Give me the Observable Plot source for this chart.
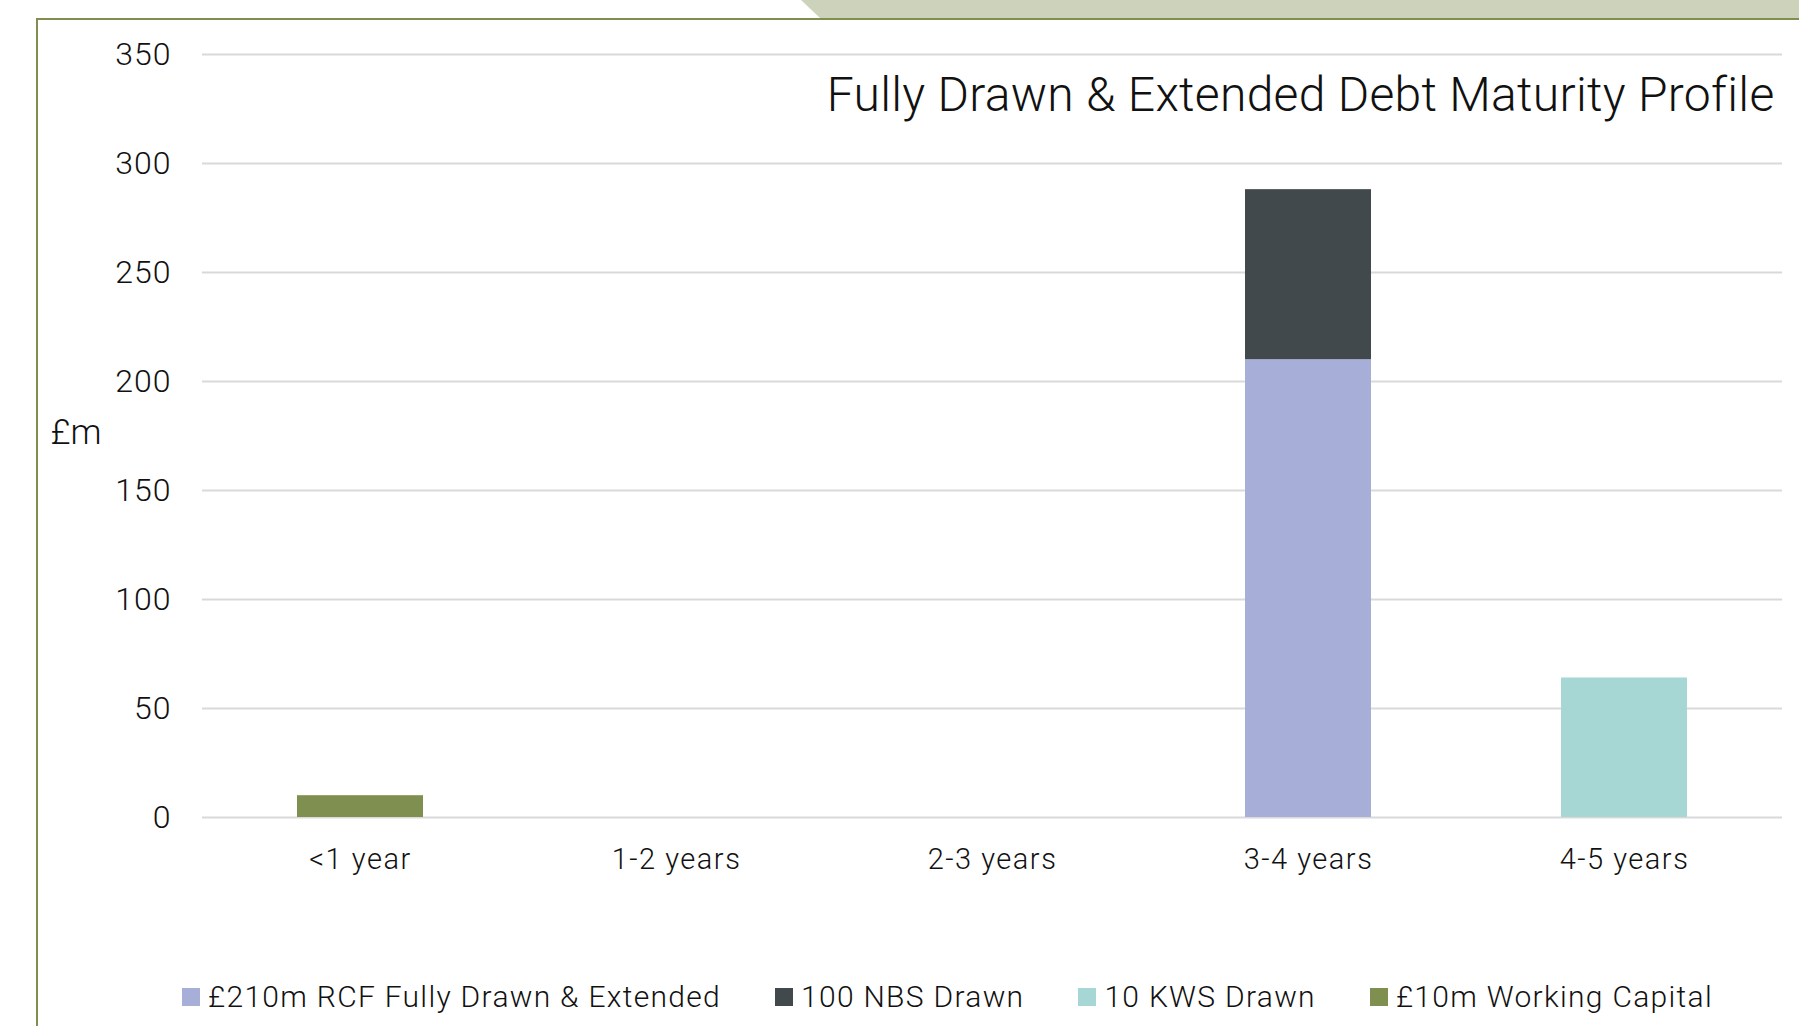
<!DOCTYPE html>
<html>
<head>
<meta charset="utf-8">
<script src="https://cdn.jsdelivr.net/npm/d3@7"></script>
<script src="https://cdn.jsdelivr.net/npm/@observablehq/plot@0.6"></script>
<style>
  html, body { margin: 0; padding: 0; background: #fff; }
  body { width: 1799px; height: 1026px; position: relative; overflow: hidden;
         font-family: Roboto, "Liberation Sans", sans-serif; font-weight: 300; }
  .band { position: absolute; left: 801px; top: 0; width: 998px; height: 18px;
          background: #cdd3bb; clip-path: polygon(0 0, 100% 0, 100% 100%, 19px 100%); }
  .frame-top { position: absolute; left: 36px; top: 18px; right: 0; height: 2px; background: #7f8f4e; }
  .frame-left { position: absolute; left: 36px; top: 18px; bottom: 0; width: 2px; background: #7f8f4e; }
  #chart { position: absolute; left: 0; top: 0; }
  #legend { position: absolute; left: 182px; top: 979px; display: flex; align-items: center;
            font-size: 30px; letter-spacing: 1.3px; color: #111; white-space: nowrap; }
  #legend .item { display: flex; align-items: center; margin-right: 54px; }
  #legend .sw { width: 18px; height: 18px; margin-right: 8px; }
  #chart svg g[aria-label="x-axis tick label"] text { letter-spacing: 1.5px; }
  #chart svg g[aria-label="y-axis tick label"] text { letter-spacing: 1px; }
  #chart svg .title-text text { letter-spacing: 0.3px; }
</style>
</head>
<body>
<div class="band"></div>
<div class="frame-top"></div>
<div class="frame-left"></div>
<div id="chart"></div>
<div id="legend"></div>
<script>
// Maturity buckets along the x axis
const categories = ["<1 year", "1-2 years", "2-3 years", "3-4 years", "4-5 years"];

// Facilities (stacked bottom to top in this order) and their colours
const seriesNames = [
  "£210m RCF Fully Drawn & Extended",
  "100 NBS Drawn",
  "10 KWS Drawn",
  "£10m Working Capital"
];
const seriesColors = ["#a7aed8", "#41494c", "#a6d7d4", "#7f8f50"];

// Amounts (£m) maturing in each bucket, one array per facility
const rcfValues = [0, 0, 0, 210, 0];
const nbsValues = [0, 0, 0, 78, 0];
const kwsValues = [0, 0, 0, 0, 64];
const wcValues  = [10, 0, 0, 0, 0];

const yTicks = [0, 50, 100, 150, 200, 250, 300, 350];
const chartTitle = "Fully Drawn & Extended Debt Maturity Profile";
const yUnit = "£m";

const seriesValues = [rcfValues, nbsValues, kwsValues, wcValues];
const rows = [];
seriesNames.forEach((name, i) => {
  categories.forEach((cat, j) => {
    const v = seriesValues[i][j];
    if (v > 0) rows.push({category: cat, series: name, value: v});
  });
});

const plot = Plot.plot({
  width: 1799,
  height: 900,
  marginLeft: 202,
  marginRight: 17,
  marginTop: 54,
  marginBottom: 83,
  style: {fontFamily: "Roboto, 'Liberation Sans', sans-serif", fontWeight: 300, color: "#111", background: "transparent"},
  x: {domain: categories, paddingInner: 0.6, paddingOuter: 0.3, label: null},
  y: {domain: [0, 350], label: null},
  color: {domain: seriesNames, range: seriesColors},
  marks: [
    Plot.ruleY(yTicks, {stroke: "#d9d9d9", strokeWidth: 2}),
    Plot.barY(rows, {x: "category", y: "value", fill: "series"}),
    Plot.axisY({ticks: yTicks, tickSize: 0, tickPadding: 31, fontSize: 32, label: null}),
    Plot.axisX({tickSize: 0, tickPadding: 31, fontSize: 29, label: null}),
    Plot.text([chartTitle], {frameAnchor: "top-right", textAnchor: "end", lineAnchor: "top",
      dx: -8, dy: 22, fontSize: 48, fill: "#111", className: "title-text"}),
    Plot.text([yUnit], {frameAnchor: "left", textAnchor: "start", dx: -152, dy: -3,
      fontSize: 35, fill: "#111"})
  ]
});
document.getElementById("chart").appendChild(plot);

// Legend row beneath the plot
const legend = document.getElementById("legend");
seriesNames.forEach((name, i) => {
  const item = document.createElement("div");
  item.className = "item";
  const sw = document.createElement("span");
  sw.className = "sw";
  sw.style.background = seriesColors[i];
  const label = document.createElement("span");
  label.textContent = name;
  item.append(sw, label);
  legend.appendChild(item);
});
</script>
</body>
</html>
